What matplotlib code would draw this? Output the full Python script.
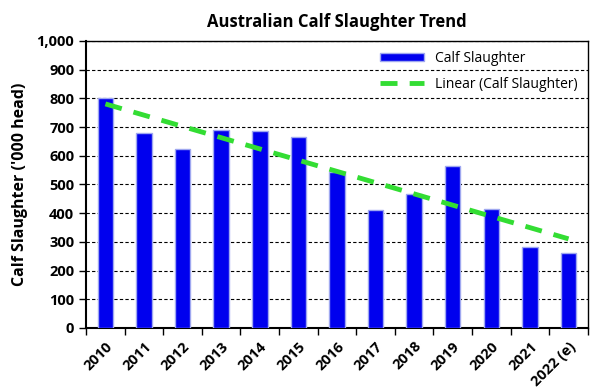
import numpy as np
import matplotlib
matplotlib.use("Agg")
import matplotlib.pyplot as plt
from matplotlib.ticker import FuncFormatter, MultipleLocator, FixedLocator

years = ["2010", "2011", "2012", "2013", "2014", "2015", "2016", "2017",
         "2018", "2019", "2020", "2021", "2022 (e)"]
slaughter = [800, 680, 624, 690, 688, 665, 544, 411, 468, 564, 414, 283, 261]

plt.rcParams['font.family'] = ['Open Sans', 'DejaVu Sans']

fig = plt.figure(figsize=(5.98, 3.90), dpi=100)
ax = fig.add_axes([0.144, 0.159, 0.839, 0.736])

x = np.arange(len(years))
bars = ax.bar(x, slaughter, width=0.4, color="#0000ee", edgecolor="#9fa8f0",
              linewidth=1.0, label="Calf Slaughter", zorder=3)

coef = np.polyfit(x, slaughter, 1)
trend = np.polyval(coef, x)
line, = ax.plot(x, trend, color="#33dd33", linestyle=(0, (3.5, 2.5)), linewidth=3.5,
                label="Linear (Calf Slaughter)", zorder=4)

ax.set_xlim(-0.5, len(years) - 0.5)
ax.set_ylim(0, 1000)
ax.yaxis.set_major_locator(MultipleLocator(100))
ax.yaxis.set_major_formatter(FuncFormatter(lambda v, p: f"{int(v):,}"))
ax.grid(axis="y", color="black", linestyle=(0, (3, 2)), linewidth=0.8, zorder=0)
ax.set_axisbelow(True)

ax.set_xticks(x)
ax.set_xticklabels(years, rotation=45, ha="right", rotation_mode="anchor",
                   fontsize=10.5, fontweight="bold")
ax.tick_params(axis="x", which="major", length=0, pad=8)
ax.xaxis.set_minor_locator(FixedLocator(np.arange(-0.5, len(years), 1.0)))
ax.tick_params(axis="x", which="minor", length=5, width=1, direction="out")
ax.tick_params(axis="y", length=5, width=1, labelsize=10.5)
for lab in ax.get_yticklabels():
    lab.set_fontweight("bold")

for s in ax.spines.values():
    s.set_color("black")
    s.set_linewidth(1.0)
ax.spines["left"].set_linewidth(1.5)
ax.spines["bottom"].set_linewidth(1.5)

ax.set_ylabel("Calf Slaughter ('000 head)", fontsize=11.5, fontweight="bold", labelpad=6)
ax.set_title("Australian Calf Slaughter Trend", fontsize=12, fontweight="bold", pad=10)

leg = ax.legend([bars, line], ["Calf Slaughter", "Linear (Calf Slaughter)"],
                loc="upper right", frameon=False, fontsize=10,
                handlelength=3.2, handleheight=0.5, borderaxespad=0.3, labelspacing=0.8)

fig.savefig("out.png", dpi=100)
